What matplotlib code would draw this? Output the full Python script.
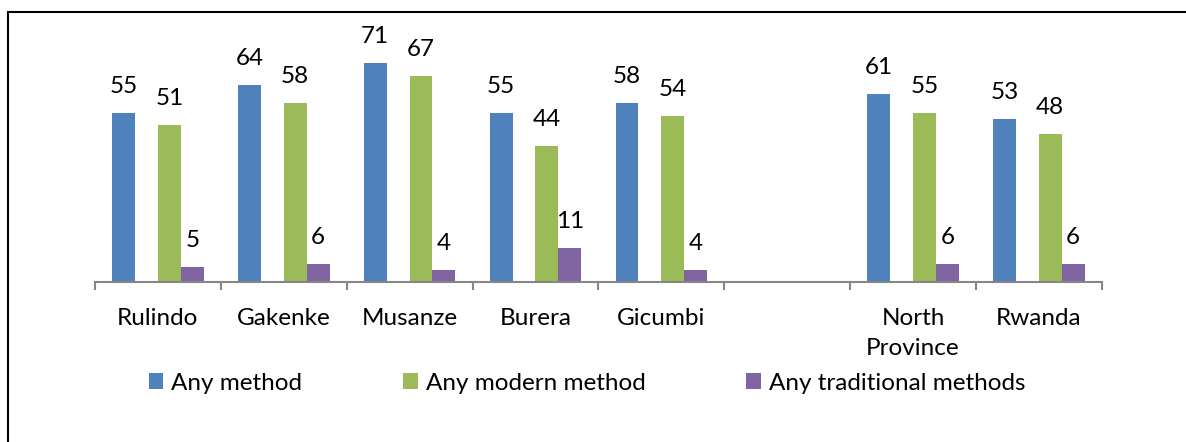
import matplotlib
matplotlib.use("Agg")
import matplotlib.pyplot as plt
from matplotlib.patches import Patch, Rectangle
import numpy as np

plt.rcParams['font.family'] = ['Lato', 'DejaVu Sans']

categories = ["Rulindo", "Gakenke", "Musanze", "Burera", "Gicumbi", "", "North\nProvince", "Rwanda"]
any_method = [55, 64, 71, 55, 58, None, 61, 53]
any_modern = [51, 58, 67, 44, 54, None, 55, 48]
any_traditional = [5, 6, 4, 11, 4, None, 6, 6]
series_names = ["Any method", "Any modern method", "Any traditional methods"]
colors = ["#4F81BD", "#9BBB59", "#8064A2"]

W, H = 1186, 442
fig = plt.figure(figsize=(W / 100, H / 100), dpi=100)
ax = fig.add_axes([95 / W, 1 - 282 / H, (1101.7 - 95) / W, (282 - 35.6) / H])

x = np.arange(len(categories))
w = 1 / 5.5
slots = [0, 2, 3]  # slot 1 is an empty series
fs = 17.5
for vals, slot, col in zip([any_method, any_modern, any_traditional], slots, colors):
    xs = [xi + (slot - 1.5) * w for xi, v in zip(x, vals) if v is not None]
    vs = [v for v in vals if v is not None]
    bars = ax.bar(xs, vs, width=w, color=col, edgecolor='none')
    for b, v in zip(bars, vs):
        ax.annotate(str(v), (b.get_x() + b.get_width() / 2, b.get_height()),
                    xytext=(0, 14.4), textcoords='offset points',
                    ha='center', va='baseline', fontsize=fs, color='black')

ax.set_xlim(-0.5, len(categories) - 0.5)
ax.set_ylim(0, 80)
ax.set_yticks([])
for s in ['top', 'right', 'left']:
    ax.spines[s].set_visible(False)
ax.spines['bottom'].set_color('#868686')
ax.spines['bottom'].set_linewidth(1.5)
ax.set_xticks(x)
ax.set_xticklabels(categories, fontsize=fs, linespacing=1.55)
ax.tick_params(axis='x', which='major', length=0, pad=18.5)
ax.set_xticks(np.arange(-0.5, len(categories)), minor=True)
ax.tick_params(axis='x', which='minor', length=6, width=1.5, color='#868686')
ax.patch.set_visible(False)

handles = [Patch(facecolor=c, edgecolor='none') for c in colors]
fig.legend(handles, series_names, loc='center', bbox_to_anchor=(587 / W, 1 - 383 / H),
           ncol=3, frameon=False, fontsize=fs, handlelength=0.6, handleheight=0.6,
           handletextpad=0.33, columnspacing=4.15)

border = Rectangle((8 / W, 0 - 0.05), 1.2, 1 - 12 / H + 0.05, transform=fig.transFigure,
                   fill=False, edgecolor='black', linewidth=1.5, clip_on=False)
fig.add_artist(border)

fig.savefig("out.png", dpi=100, facecolor='white')
